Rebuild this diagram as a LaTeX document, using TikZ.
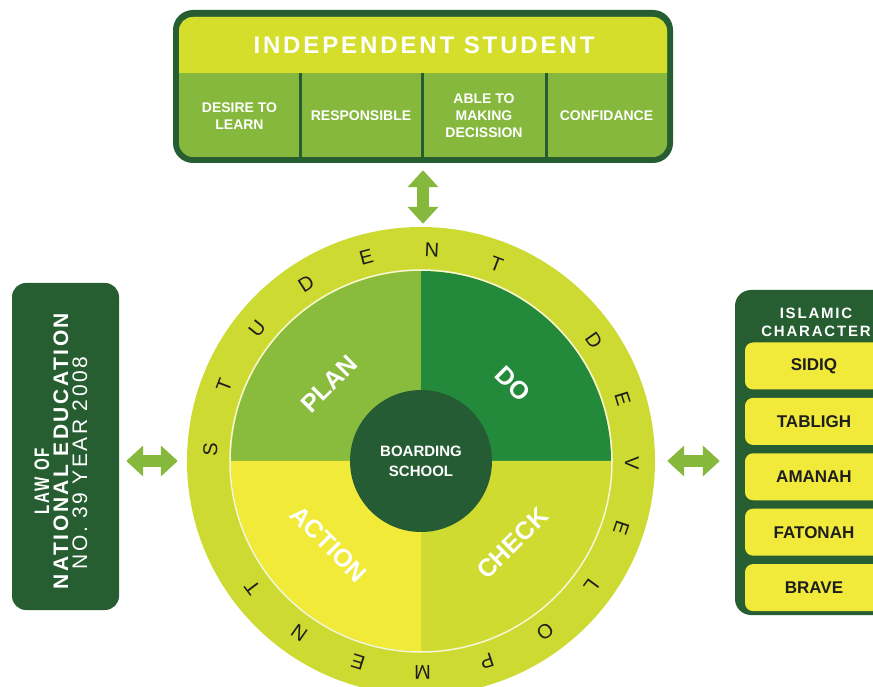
\documentclass[tikz,border=0pt]{standalone}
\usepackage{fontspec}
\setmainfont{Liberation Sans}
\newfontfamily\spacedfont[LetterSpace=12]{Liberation Sans}
\newfontfamily\narrowfont[FakeStretch=0.72, LetterSpace=9]{Liberation Sans}
\usetikzlibrary{arrows.meta, positioning}

\definecolor{deepgreen}{RGB}{38,94,50}
\definecolor{headlime}{RGB}{212,222,43}
\definecolor{cellgreen}{RGB}{133,184,60}
\definecolor{ringlime}{RGB}{205,218,50}
\definecolor{plangreen}{RGB}{137,187,60}
\definecolor{dogreen}{RGB}{35,137,59}
\definecolor{actionyellow}{RGB}{242,234,56}
\definecolor{checklime}{RGB}{207,219,48}
\definecolor{hubgreen}{RGB}{37,92,52}
\definecolor{rowyellow}{RGB}{242,234,58}
\definecolor{inkblack}{RGB}{30,30,30}

\begin{document}
\begin{tikzpicture}[
    x=1pt, y=1pt,
    panel/.style={draw=none, fill=deepgreen, inner sep=0pt},
    cellnote/.style={text=white, align=center, font=\bfseries\fontsize{14}{17}\selectfont},
    charrow/.style={fill=rowyellow, rounded corners=8pt, minimum width=138pt, minimum height=47pt,
        inner sep=0pt, text=inkblack, font=\bfseries\fontsize{17}{17}\selectfont},
    quadlabel/.style={text=white, font=\bfseries\fontsize{25}{25}\selectfont},
    ringchar/.style={text=inkblack, inner sep=0pt, font=\fontsize{20}{20}\selectfont},
    dblarrow/.style={{Triangle[length=17pt,width=30pt]}-{Triangle[length=17pt,width=30pt]},
        line width=12pt, draw=cellgreen},
]
\useasboundingbox (0,0) rectangle (873,686);
\clip (0,0) rectangle (873,686);

% top panel
\node[panel, rounded corners=20pt, minimum width=500pt, minimum height=153pt] (indep) at (423,599.5) {};
\fill[cellgreen, rounded corners=14pt] (179,529) rectangle (667,669);
\fill[headlime] (179,613) [rounded corners=14pt] -- (179,669) -- (667,669) [sharp corners] -- (667,613) -- cycle;
\foreach \x in {300,422,546}
    \draw[deepgreen, line width=3pt] (\x,613) -- (\x,529);
\node[text=white, font=\spacedfont\bfseries\fontsize{24}{24}\selectfont] (title) at (424,641) {INDEPENDENT STUDENT};
\node[cellnote] (desire) at (239.5,570) {DESIRE TO\\LEARN};
\node[cellnote] (respons) at (361,570) {RESPONSIBLE};
\node[cellnote] (decide) at (484,570) {ABLE TO\\MAKING\\DECISSION};
\node[cellnote] (confid) at (606.5,570) {CONFIDANCE};

% left panel
\node[panel, rounded corners=14pt, minimum width=107pt, minimum height=327pt] (lawbox) at (65.5,239.5) {};
\node[rotate=90, text=white, align=center, inner sep=0pt,
      font=\spacedfont\fontsize{21}{19}\selectfont] (lawtext) at (61,235)
    {{\narrowfont\bfseries LAW OF}\hspace*{60pt}\\{\bfseries NATIONAL EDUCATION}\\NO. 39 YEAR 2008\hspace*{24pt}};

% right panel
\node[panel, rounded corners=16pt, minimum width=156pt, minimum height=325pt] (charbox) at (813,233.5) {};
\node[text=white, align=center, inner sep=0pt,
      font=\spacedfont\bfseries\fontsize{15}{18}\selectfont] (charhead) at (816,364) {ISLAMIC\\CHARACTER};
\node[charrow] (sidiq) at (814,320) {SIDIQ};
\node[charrow, below=8pt of sidiq] (tabligh) {TABLIGH};
\node[charrow, below=8pt of tabligh] (amanah) {AMANAH};
\node[charrow, below=8pt of amanah] (fatonah) {FATONAH};
\node[charrow, below=8pt of fatonah] (brave) {BRAVE};

% cycle
\node[circle, fill=ringlime, minimum size=468pt, inner sep=0pt] (ring) at (421,225) {};
\fill[plangreen] (ring.center) -- ++(180:190pt) arc[start angle=180, end angle=90, radius=190pt] -- cycle;
\fill[dogreen] (ring.center) -- ++(90:190pt) arc[start angle=90, end angle=0, radius=190pt] -- cycle;
\fill[checklime] (ring.center) -- ++(0:190pt) arc[start angle=0, end angle=-90, radius=190pt] -- cycle;
\fill[actionyellow] (ring.center) -- ++(-90:190pt) arc[start angle=-90, end angle=-180, radius=190pt] -- cycle;
\draw[white, opacity=.8, line width=1.5pt] (ring.center) circle[radius=191pt];
\node[circle, fill=hubgreen, minimum size=142pt, inner sep=0pt, text=white, align=center,
      font=\bfseries\fontsize{15}{20}\selectfont] (hub) at (ring.center) {BOARDING\\SCHOOL};

\node[quadlabel, rotate=45] (plan) at ([shift={(140:120pt)}]ring.center) {PLAN};
\node[quadlabel, rotate=-45] (do) at ([shift={(40:120pt)}]ring.center) {DO};
\node[quadlabel, rotate=-45] (action) at ([shift={(222:124pt)}]ring.center) {ACTION};
\node[quadlabel, rotate=45] (check) at ([shift={(-42:123pt)}]ring.center) {CHECK};

% lettering round the ring
\foreach \ch [count=\i] in {S,T,U,D,E,N,T} {
    \pgfmathsetmacro\ang{195-18*\i}
    \node[ringchar, rotate=\ang-90] (s\i) at ([shift={(\ang:211pt)}]ring.center) {\ch};
}
\foreach \ch [count=\i] in {D,E,V,E,L,O,P,M,E,N,T} {
    \pgfmathsetmacro\ang{52.8-17.8*\i}
    \node[ringchar, rotate=\ang-90] (d\i) at ([shift={(\ang:211pt)}]ring.center) {\ch};
}

% links
\draw[dblarrow, shorten <=7pt, shorten >=3pt] (indep.south) -- (indep.south |- ring.north);
\draw[dblarrow, shorten <=7pt, shorten >=9pt] (lawbox.east |- ring.west) -- (ring.west);
\draw[dblarrow, shorten <=12pt, shorten >=15pt] (ring.east) -- (ring.east -| charbox.west);
\end{tikzpicture}
\end{document}
